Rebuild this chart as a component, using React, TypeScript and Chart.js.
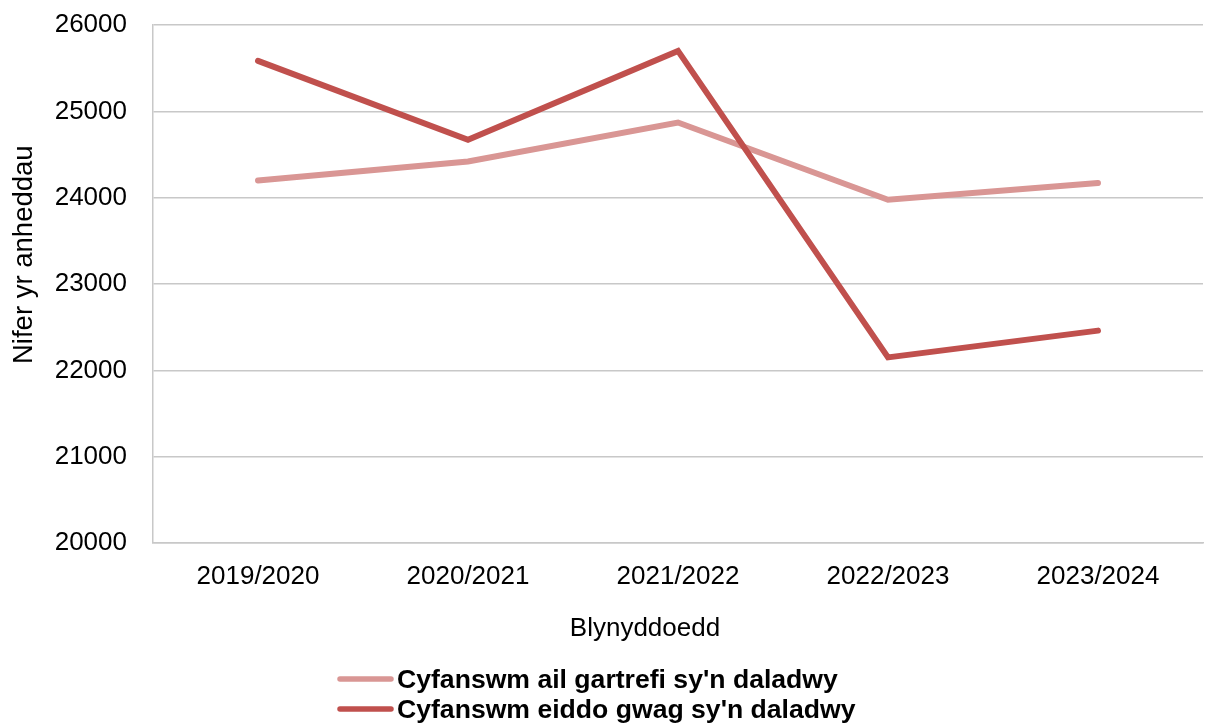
import React, { useEffect, useRef } from "react";
import { Chart, registerables } from "chart.js";

Chart.register(...registerables);

const categories = ["2019/2020", "2020/2021", "2021/2022", "2022/2023", "2023/2024"];
const secondHomesTotal = [24200, 24420, 24870, 23975, 24170];
const emptyPropertiesTotal = [25585, 24670, 25700, 22150, 22460];
const seriesLabels = ["Cyfanswm ail gartrefi sy'n daladwy", "Cyfanswm eiddo gwag sy'n daladwy"];
const seriesColors = ["#D99694", "#C0504D"];
const xTitle = "Blynyddoedd";
const yTitle = "Nifer yr anheddau";
const yMin = 20000;
const yMax = 26000;
const yStep = 1000;

const FONT = "'Liberation Sans', Arial, sans-serif";

const decorPlugin = {
  id: "decor",
  afterDraw(chart: any) {
    const ctx = chart.ctx;
    const area = chart.chartArea;
    ctx.save();
    ctx.fillStyle = "#000";
    ctx.textBaseline = "alphabetic";
    // x axis title
    ctx.font = `26px ${FONT}`;
    ctx.textAlign = "center";
    ctx.fillText(xTitle, area.left + (area.right - area.left) / 2 - 33, 636);
    // y axis title
    ctx.save();
    ctx.font = `27.5px ${FONT}`;
    ctx.textAlign = "left";
    ctx.translate(32, 364);
    ctx.rotate(-Math.PI / 2);
    ctx.fillText(yTitle, 0, 0);
    ctx.restore();
    // legend
    const rows = [679, 709];
    chart.data.datasets.forEach((ds: any, i: number) => {
      const y = rows[i];
      ctx.strokeStyle = ds.borderColor;
      ctx.lineWidth = 5.5;
      ctx.lineCap = "round";
      ctx.beginPath();
      ctx.moveTo(340, y);
      ctx.lineTo(391, y);
      ctx.stroke();
      ctx.fillStyle = "#000";
      ctx.font = `bold 26.6px ${FONT}`;
      ctx.textAlign = "left";
      ctx.fillText(ds.label, 397, y + 9);
    });
    ctx.restore();
  },
};

export default function App() {
  const ref = useRef<HTMLCanvasElement>(null);
  useEffect(() => {
    document.body.style.margin = "0";
    const canvas = ref.current!;
    const chart = new Chart(canvas, {
      type: "line",
      data: {
        labels: categories,
        datasets: [
          {
            label: seriesLabels[0],
            data: secondHomesTotal,
            borderColor: seriesColors[0],
            backgroundColor: seriesColors[0],
            borderWidth: 6,
            pointRadius: 0,
            tension: 0,
            borderCapStyle: "round",
            borderJoinStyle: "miter",
            order: 1,
          },
          {
            label: seriesLabels[1],
            data: emptyPropertiesTotal,
            borderColor: seriesColors[1],
            backgroundColor: seriesColors[1],
            borderWidth: 6,
            pointRadius: 0,
            tension: 0,
            borderCapStyle: "round",
            borderJoinStyle: "miter",
            order: 0,
          },
        ],
      },
      options: {
        animation: false,
        responsive: false,
        maintainAspectRatio: false,
        layout: { padding: { top: 25, right: 4, left: 0, bottom: 0 } },
        plugins: {
          legend: { display: false },
          tooltip: { enabled: false },
          title: { display: false },
        },
        scales: {
          x: {
            offset: true,
            grid: { display: false, drawTicks: false },
            border: { display: true, color: "#c8c8c8", width: 1.5 },
            ticks: {
              color: "#000",
              font: { family: FONT, size: 26 },
              padding: 18,
              maxRotation: 0,
              autoSkip: false,
            },
            afterFit(scale: any) {
              scale.height = 180;
              scale.paddingLeft = 0;
              scale.paddingRight = 0;
            },
          },
          y: {
            min: yMin,
            max: yMax,
            grid: { color: "#c8c8c8", lineWidth: 1.5, drawTicks: false },
            border: { display: true, color: "#c8c8c8", width: 1.5 },
            ticks: {
              stepSize: yStep,
              color: "#000",
              font: { family: FONT, size: 26 },
              padding: 26,
              callback: (v: any) => String(v),
            },
            afterFit(scale: any) {
              scale.width = 153;
              scale.paddingTop = 0;
              scale.paddingBottom = 0;
            },
          },
        },
      },
      plugins: [decorPlugin],
    });
    return () => chart.destroy();
  }, []);
  return (
    <div style={{ width: 1207, height: 723, background: "#fff" }}>
      <canvas ref={ref} width={1207} height={723} style={{ display: "block" }} />
    </div>
  );
}
